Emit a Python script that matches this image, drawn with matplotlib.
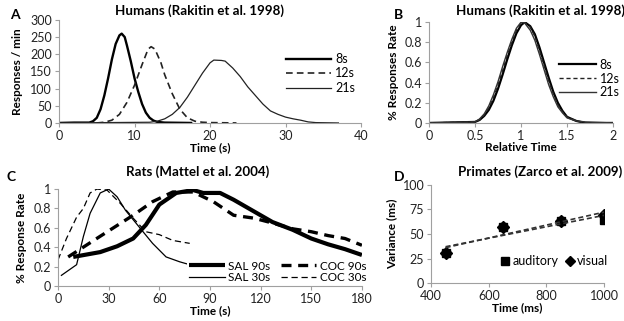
import matplotlib
matplotlib.use('Agg')
import matplotlib.pyplot as plt
import numpy as np

plt.rcParams['font.family'] = ['Lato', 'DejaVu Sans']

# Panel A: humans, responses per minute
a_8s_t = [0, 2, 4, 4.5, 5, 5.5, 6, 6.5, 7, 7.5, 8, 8.3, 8.7, 9, 9.5, 10, 10.5, 11, 11.5, 12, 12.5, 13, 14, 17.5]
a_8s_r = [0, 1, 1, 5, 15, 40, 80, 130, 185, 230, 255, 260, 250, 225, 180, 130, 90, 55, 30, 15, 7, 3, 1, 0]
a_12s_t = [5, 6, 7, 8, 9, 10, 11, 11.8, 12.2, 12.7, 13.5, 14, 15, 16, 17, 18, 19, 20, 23.5]
a_12s_r = [0, 2, 8, 25, 60, 110, 170, 215, 222, 215, 175, 140, 85, 40, 15, 5, 2, 1, 0]
a_21s_t = [0, 12, 13, 14, 15, 16, 17, 18, 19, 20, 20.5, 21.5, 22, 23, 24, 25, 26, 27, 28, 29, 30, 31, 32, 33, 34, 37]
a_21s_r = [0, 2, 5, 12, 25, 45, 75, 110, 145, 175, 183, 182, 180, 160, 135, 105, 80, 55, 35, 25, 17, 12, 8, 3, 1, 0]

# Panel B: normalised to relative time
b_rel = [0, 0.5, 0.55, 0.6, 0.65, 0.7, 0.75, 0.8, 0.85, 0.9, 0.95, 1.0, 1.04, 1.1, 1.15, 1.2, 1.25, 1.3, 1.35, 1.4, 1.45, 1.5, 1.6, 1.7, 2.0]
b_8s = [0, 0.01, 0.03, 0.07, 0.13, 0.22, 0.34, 0.48, 0.63, 0.77, 0.89, 0.97, 1.0, 0.96, 0.88, 0.75, 0.6, 0.45, 0.31, 0.2, 0.12, 0.06, 0.02, 0.0, 0]
b_12s = [0, 0.01, 0.03, 0.08, 0.15, 0.25, 0.38, 0.52, 0.67, 0.8, 0.92, 0.99, 1.0, 0.95, 0.86, 0.72, 0.57, 0.42, 0.29, 0.18, 0.11, 0.06, 0.02, 0.0, 0]
b_21s = [0, 0.01, 0.04, 0.09, 0.17, 0.28, 0.41, 0.56, 0.7, 0.83, 0.94, 1.0, 0.99, 0.92, 0.82, 0.68, 0.53, 0.38, 0.26, 0.16, 0.1, 0.05, 0.02, 0.01, 0]

# Panel C: rats
sal90_t = [9, 25, 35, 44.5, 52, 60, 70, 80, 86, 96, 104, 116, 127, 139, 150, 160, 170, 180]
sal90_r = [0.30, 0.35, 0.41, 0.49, 0.63, 0.84, 0.96, 0.99, 0.96, 0.96, 0.89, 0.77, 0.66, 0.58, 0.49, 0.43, 0.38, 0.32]
coc90_t = [6, 24.7, 44.5, 56, 68, 80, 92, 104, 116, 127, 139, 150, 160, 170, 180]
coc90_r = [0.30, 0.51, 0.73, 0.87, 0.97, 0.97, 0.87, 0.73, 0.70, 0.65, 0.59, 0.56, 0.52, 0.49, 0.42]
sal30_t = [2, 11, 15, 19, 25, 30, 35, 40, 48, 56, 64, 72, 80]
sal30_r = [0.11, 0.22, 0.51, 0.75, 0.96, 1.0, 0.92, 0.78, 0.61, 0.44, 0.30, 0.25, 0.21]
coc30_t = [0, 5, 11, 15, 19, 23, 29, 37, 44.5, 52, 60, 68, 78]
coc30_r = [0.27, 0.49, 0.71, 0.80, 0.96, 1.0, 0.99, 0.85, 0.70, 0.56, 0.53, 0.47, 0.44]

# Panel D: primates
d_time = [450, 650, 850, 1000]
d_auditory = [31, 57, 63, 64]
d_visual = [31, 57, 63, 69]

GRAY = '#a0a0a0'
TICK_FS = 9
LABEL_FS = 8.5


def excel_axes(ax, xlim, xticks, ylim, yticks):
    ax.set_xlim(*xlim)
    ax.set_ylim(*ylim)
    ax.set_xticks(xticks)
    ax.set_yticks(yticks)
    for s in ('top', 'right'):
        ax.spines[s].set_visible(False)
    for s in ('left', 'bottom'):
        ax.spines[s].set_color(GRAY)
        ax.spines[s].set_linewidth(0.8)
    ax.tick_params(colors=GRAY, labelcolor='#222222', labelsize=TICK_FS,
                   length=3, width=0.8, direction='out', pad=2)
    ax.xaxis.set_major_formatter(plt.FuncFormatter(lambda v, p: '%g' % v))
    ax.yaxis.set_major_formatter(plt.FuncFormatter(lambda v, p: '%g' % v))


fig = plt.figure(figsize=(6.24, 3.21), dpi=100)

axA = fig.add_axes([0.0946, 0.617, 0.484, 0.321])
axB = fig.add_axes([0.6875, 0.617, 0.295, 0.314])
axC = fig.add_axes([0.093, 0.109, 0.487, 0.302])
axD = fig.add_axes([0.691, 0.118, 0.277, 0.306])

# A
axA.plot(a_8s_t, a_8s_r, color='black', lw=1.7, label='8s')
axA.plot(a_12s_t, a_12s_r, color='#222222', lw=1.2, ls=(0, (4, 2.5)), label='12s')
axA.plot(a_21s_t, a_21s_r, color='#222222', lw=0.9, label='21s')
excel_axes(axA, (0, 40), [0, 10, 20, 30, 40], (0, 300), range(0, 301, 50))
axA.set_xlabel('Time (s)', fontsize=LABEL_FS, fontweight='bold', labelpad=0)
axA.set_ylabel('Responses / min', fontsize=LABEL_FS, fontweight='bold', labelpad=5)
axA.legend(loc='upper right', bbox_to_anchor=(1.0, 0.74), frameon=False, fontsize=TICK_FS,
           handlelength=3.6, labelspacing=0.2, handletextpad=0.3, borderpad=0)

# B
axB.plot(b_rel, b_8s, color='black', lw=1.6, label='8s')
axB.plot(b_rel, b_12s, color='#222222', lw=1.0, ls=(0, (3, 2)), label='12s')
axB.plot(b_rel, b_21s, color='#333333', lw=1.0, label='21s')
excel_axes(axB, (0, 2), [0, 0.5, 1, 1.5, 2], (0, 1), [0, 0.2, 0.4, 0.6, 0.8, 1])
axB.set_xlabel('Relative Time', fontsize=LABEL_FS, fontweight='bold', labelpad=0)
axB.set_ylabel('% Responses Rate', fontsize=LABEL_FS, fontweight='bold', labelpad=4)
axB.legend(loc='upper right', bbox_to_anchor=(1.07, 0.7), frameon=False, fontsize=TICK_FS,
           handlelength=3.0, labelspacing=0.15, handletextpad=0.3, borderpad=0)

# C
h_sal90, = axC.plot(sal90_t, sal90_r, color='black', lw=3.0, label='SAL 90s', solid_capstyle='butt')
h_coc90, = axC.plot(coc90_t, coc90_r, color='black', lw=2.4, ls=(0, (3, 2)), label='COC 90s')
h_sal30, = axC.plot(sal30_t, sal30_r, color='black', lw=0.9, label='SAL 30s')
h_coc30, = axC.plot(coc30_t, coc30_r, color='black', lw=0.9, ls=(0, (5, 3)), label='COC 30s')
excel_axes(axC, (0, 180), range(0, 181, 30), (0, 1), [0, 0.2, 0.4, 0.6, 0.8, 1])
axC.set_xlabel('Time (s)', fontsize=LABEL_FS, fontweight='bold', labelpad=0)
axC.set_ylabel('% Response Rate', fontsize=LABEL_FS, fontweight='bold', labelpad=5)
legC = axC.legend(handles=[h_sal90, h_sal30, h_coc90, h_coc30], loc='lower right',
                  bbox_to_anchor=(1.04, -0.05), ncol=2, frameon=True, fontsize=8.5,
                  handlelength=3.0, labelspacing=0.05, handletextpad=0.3, columnspacing=0.9,
                  borderpad=0.15, facecolor='white', edgecolor='none', framealpha=1)
legC.get_frame().set_boxstyle('square', pad=0)

# D
axD.plot(d_time, d_auditory, ls='none', marker='s', ms=6, color='black', label='auditory')
axD.plot(d_time, d_visual, ls='none', marker='D', ms=6, color='black', label='visual')
xs = np.array([d_time[0], d_time[-1]])
for vals in (d_auditory, d_visual):
    k, b = np.polyfit(d_time, vals, 1)
    axD.plot(xs, k * xs + b, color='#333333', lw=1.2, ls=(0, (3, 1.8)))
excel_axes(axD, (400, 1000), [400, 600, 800, 1000], (0, 100), [0, 25, 50, 75, 100])
axD.set_xlabel('Time (ms)', fontsize=LABEL_FS, fontweight='bold', labelpad=0)
axD.set_ylabel('Variance (ms)', fontsize=LABEL_FS, fontweight='bold', labelpad=4)
axD.legend(loc='lower right', bbox_to_anchor=(1.06, 0.1), ncol=2, frameon=False, fontsize=TICK_FS,
           handlelength=0.7, handletextpad=0.2, columnspacing=0.6, markerscale=0.85, borderpad=0)

# titles and panel letters
title_kw = dict(fontsize=9.6, fontweight='bold', ha='center', va='center')
fig.text(0.32, 0.966, 'Humans (Rakitin et al. 1998)', **title_kw)
fig.text(0.866, 0.966, 'Humans (Rakitin et al. 1998)', **title_kw)
fig.text(0.316, 0.464, 'Rats (Mattel et al. 2004)', **title_kw)
fig.text(0.866, 0.464, 'Primates (Zarco et al. 2009)', **title_kw)
letter_kw = dict(fontsize=10, fontweight='bold', ha='left', va='center')
fig.text(0.016, 0.953, 'A', **letter_kw)
fig.text(0.632, 0.953, 'B', **letter_kw)
fig.text(0.010, 0.449, 'C', **letter_kw)
fig.text(0.632, 0.449, 'D', **letter_kw)

fig.savefig('out.png', dpi=100)
